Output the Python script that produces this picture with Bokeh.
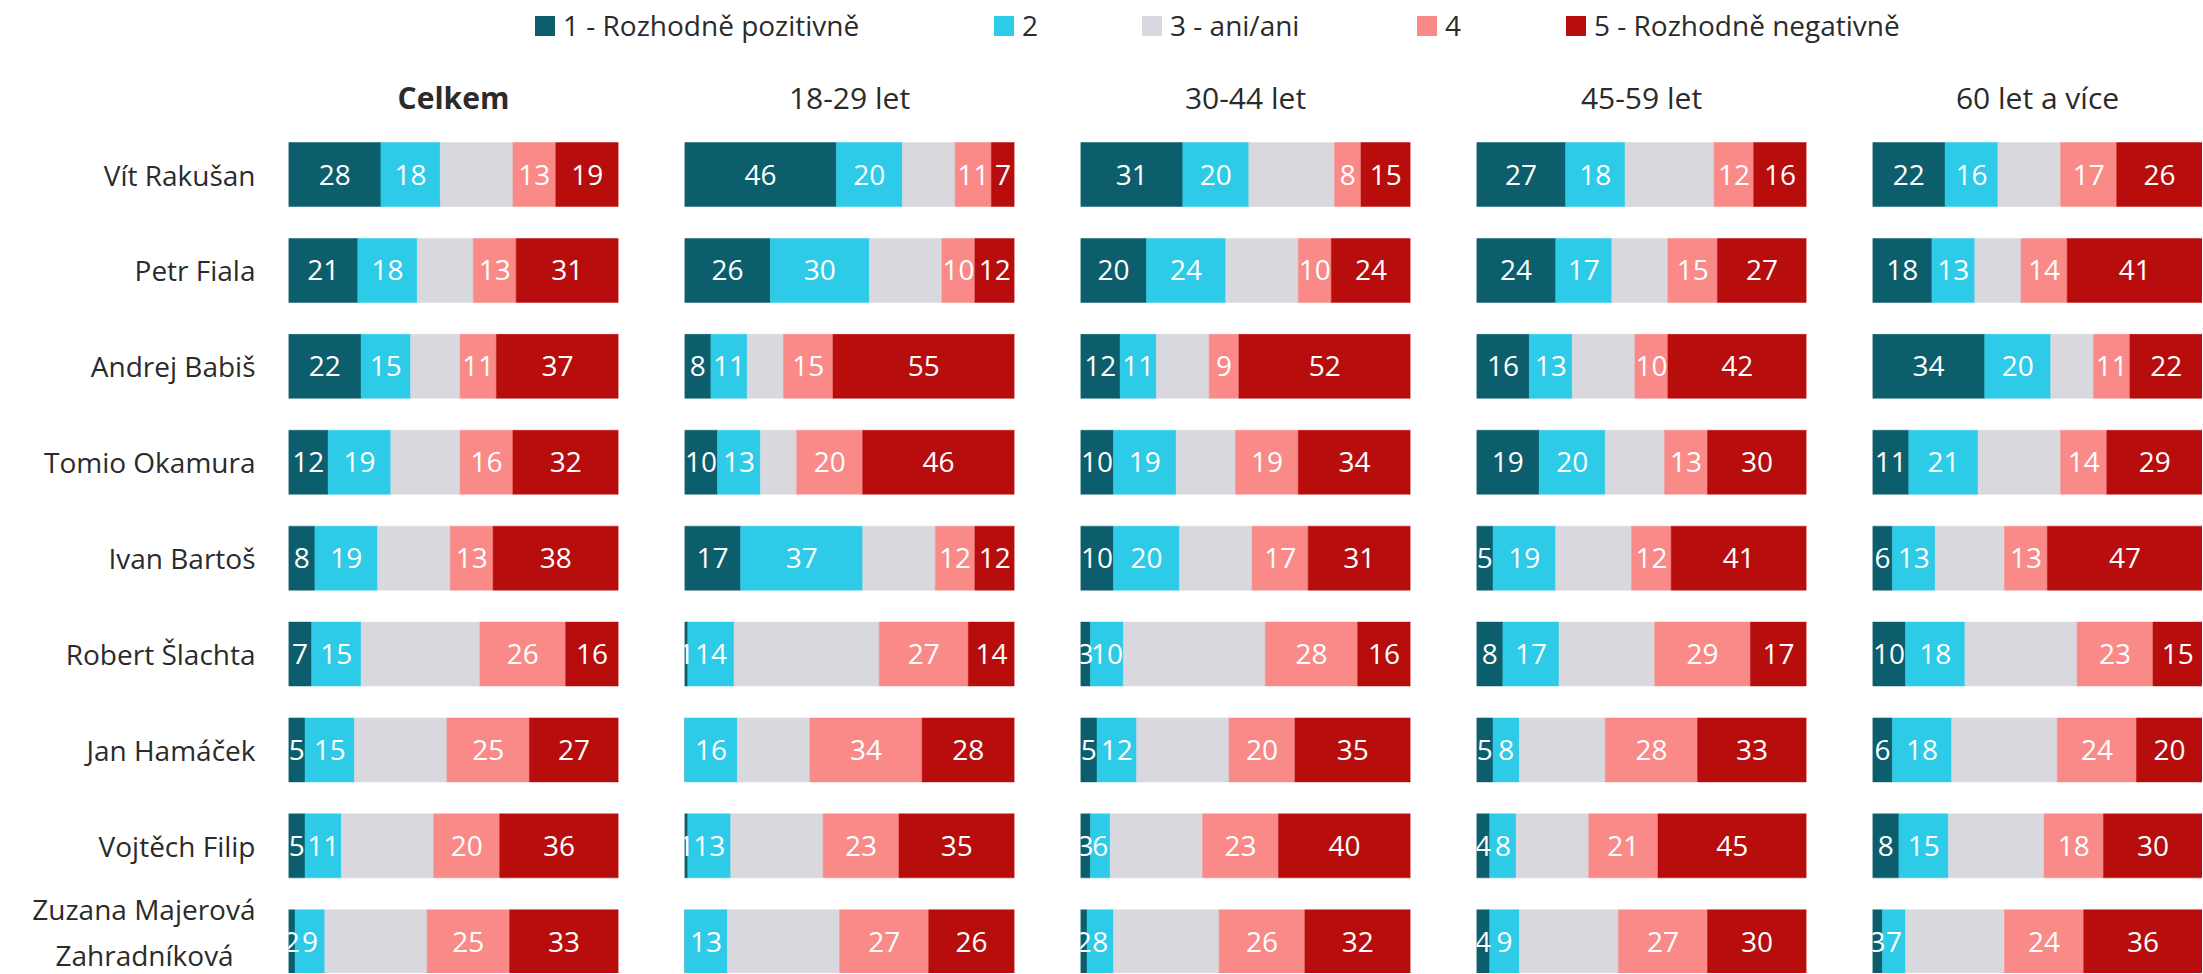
from bokeh.plotting import figure
from bokeh.models import ColumnDataSource, Range1d, FixedTicker, Legend, LegendItem
from bokeh.layouts import column, row
from bokeh.embed import file_html
from bokeh.resources import INLINE
from bokeh.core.properties import value

# ---------------- data ----------------
names = ["Vít Rakušan", "Petr Fiala", "Andrej Babiš", "Tomio Okamura", "Ivan Bartoš",
         "Robert Šlachta", "Jan Hamáček", "Vojtěch Filip",
         "Zuzana Majerová\nZahradníková\u00a0\u00a0\u00a0"]
groups = ["Celkem", "18-29 let", "30-44 let", "45-59 let", "60 let a více"]
categories = ["1 - Rozhodně pozitivně", "2", "3 - ani/ani", "4", "5 - Rozhodně negativně"]
colors = ["#0d5e6c", "#2dcbe8", "#d8d8de", "#f98a88", "#b80d0d"]

celkem_1 = [28, 21, 22, 12, 8, 7, 5, 5, 2]
celkem_2 = [18, 18, 15, 19, 19, 15, 15, 11, 9]
celkem_3 = [22, 17, 15, 21, 22, 36, 28, 28, 31]
celkem_4 = [13, 13, 11, 16, 13, 26, 25, 20, 25]
celkem_5 = [19, 31, 37, 32, 38, 16, 27, 36, 33]

age1829_1 = [46, 26, 8, 10, 17, 1, 0, 1, 0]
age1829_2 = [20, 30, 11, 13, 37, 14, 16, 13, 13]
age1829_3 = [16, 22, 11, 11, 22, 44, 22, 28, 34]
age1829_4 = [11, 10, 15, 20, 12, 27, 34, 23, 27]
age1829_5 = [7, 12, 55, 46, 12, 14, 28, 35, 26]

age3044_1 = [31, 20, 12, 10, 10, 3, 5, 3, 2]
age3044_2 = [20, 24, 11, 19, 20, 10, 12, 6, 8]
age3044_3 = [26, 22, 16, 18, 22, 43, 28, 28, 32]
age3044_4 = [8, 10, 9, 19, 17, 28, 20, 23, 26]
age3044_5 = [15, 24, 52, 34, 31, 16, 35, 40, 32]

age4559_1 = [27, 24, 16, 19, 5, 8, 5, 4, 4]
age4559_2 = [18, 17, 13, 20, 19, 17, 8, 8, 9]
age4559_3 = [27, 17, 19, 18, 23, 29, 26, 22, 30]
age4559_4 = [12, 15, 10, 13, 12, 29, 28, 21, 27]
age4559_5 = [16, 27, 42, 30, 41, 17, 33, 45, 30]

age60_1 = [22, 18, 34, 11, 6, 10, 6, 8, 3]
age60_2 = [16, 13, 20, 21, 13, 18, 18, 15, 7]
age60_3 = [19, 14, 13, 25, 21, 34, 32, 29, 30]
age60_4 = [17, 14, 11, 14, 13, 23, 24, 18, 24]
age60_5 = [26, 41, 22, 29, 47, 15, 20, 30, 36]

panel_data = [
    [celkem_1, celkem_2, celkem_3, celkem_4, celkem_5],
    [age1829_1, age1829_2, age1829_3, age1829_4, age1829_5],
    [age3044_1, age3044_2, age3044_3, age3044_4, age3044_5],
    [age4559_1, age4559_2, age4559_3, age4559_4, age4559_5],
    [age60_1, age60_2, age60_3, age60_4, age60_5],
]

FONT = "Open Sans"
TEXT_COLOR = "#2b2b2b"

# ---------------- legend strip ----------------
lf = figure(width=2202, height=50, x_range=Range1d(0, 1), y_range=Range1d(0, 1),
            output_backend="svg", toolbar_location=None,
            x_axis_location=None, y_axis_location=None,
            min_border_left=0, min_border_right=0, min_border_top=0, min_border_bottom=0)
lf.grid.visible = False
lf.outline_line_color = None
legend_x = [532, 991, 1139, 1414, 1563]
for cat, col, lx in zip(categories, colors, legend_x):
    # zero-size swatch carrier (nothing visible is drawn in the strip itself)
    r = lf.hbar(y=[0], left=[0], right=[0], height=0, fill_color=col, line_color=None)
    leg = Legend(items=[LegendItem(label=cat, renderers=[r])], location=(lx, 6),
                 orientation="horizontal", glyph_width=25, glyph_height=25,
                 label_standoff=6, padding=0, margin=0, border_line_color=None,
                 background_fill_alpha=0, label_text_font_size="28px",
                 label_text_font=FONT, label_text_color=TEXT_COLOR)
    lf.add_layout(leg)

# ---------------- panels ----------------
figs = []
n = len(names)
for gi, (gname, series) in enumerate(zip(groups, panel_data)):
    first = gi == 0
    last = gi == len(groups) - 1
    mbl = 288 if first else 33
    mbr = 0 if last else 33
    w = mbl + 330 + mbr
    p = figure(width=w, height=923, x_range=Range1d(0, 100),
               y_range=Range1d(8.331, -0.48),
               output_backend="svg", toolbar_location=None,
               x_axis_location=None, y_axis_location="left" if first else None,
               min_border_left=mbl, min_border_right=mbr,
               min_border_top=78, min_border_bottom=0, title=gname)
    p.grid.visible = False
    p.outline_line_color = None
    p.title.align = "center"
    p.title.text_font = FONT
    p.title.text_font_size = "30px"
    p.title.text_color = TEXT_COLOR
    p.title.text_font_style = "bold" if first else "normal"
    p.title.standoff = 21

    src = ColumnDataSource(dict(y=list(range(n)),
                                c1=series[0], c2=series[1], c3=series[2],
                                c4=series[3], c5=series[4]))
    p.hbar_stack(["c1", "c2", "c3", "c4", "c5"], y="y", height=0.667,
                 color=colors, source=src, line_width=0.5)

    xs, ys, txt = [], [], []
    for i in range(n):
        left = 0
        for k in range(5):
            v = series[k][i]
            if k != 2 and v > 0:
                xs.append(left + v / 2)
                ys.append(i)
                txt.append(str(v))
            left += v
    p.text(x=xs, y=ys, text=txt, text_align="center", text_baseline="middle",
           text_color="white", text_font_size="28px", text_font=value(FONT))

    if first:
        ax = p.yaxis[0]
        ax.ticker = FixedTicker(ticks=list(range(n)))
        ax.major_label_overrides = {i: nm for i, nm in enumerate(names)}
        ax.axis_line_color = None
        ax.major_tick_line_color = None
        ax.minor_tick_line_color = None
        ax.major_tick_out = 0
        ax.major_tick_in = 0
        ax.major_label_standoff = 33
        ax.major_label_text_font = FONT
        ax.major_label_text_font_size = "28px"
        ax.major_label_text_color = TEXT_COLOR
    figs.append(p)

layout = column(lf, row(*figs))
open("out.html", "w").write(file_html(layout, INLINE))
